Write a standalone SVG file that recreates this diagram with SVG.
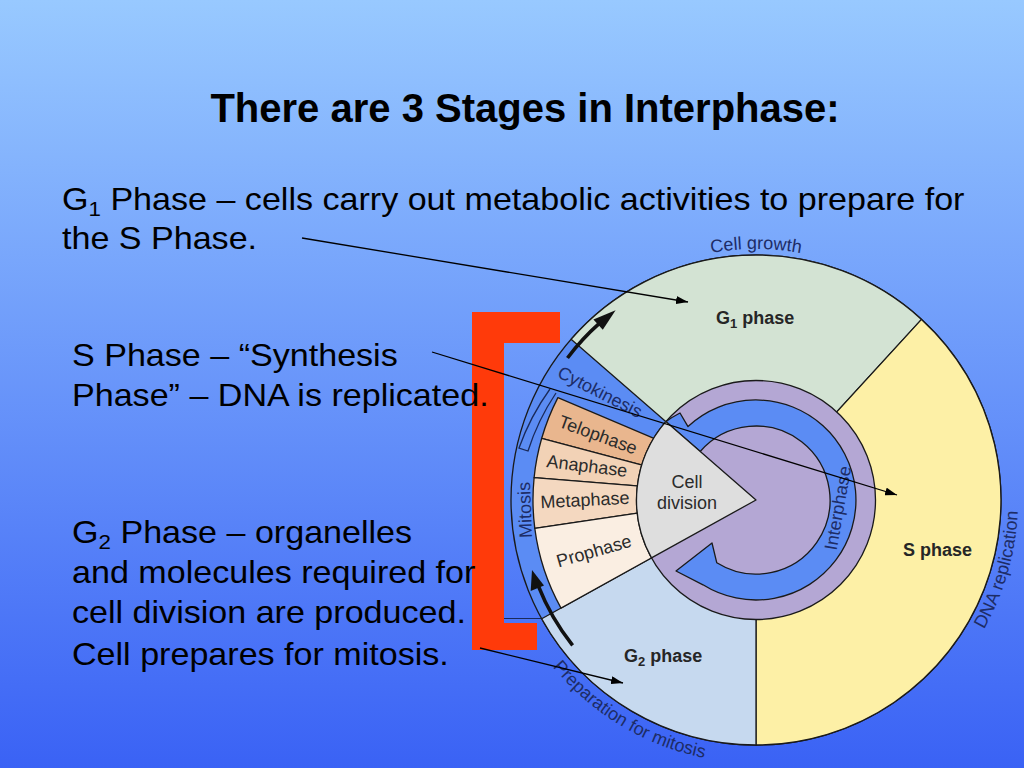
<svg xmlns="http://www.w3.org/2000/svg" width="1024" height="768" viewBox="0 0 1024 768">
<defs>
<linearGradient id="bg" x1="0" y1="0" x2="0" y2="1">
<stop offset="0" stop-color="#98c9ff"/>
<stop offset="1" stop-color="#3a62f5"/>
</linearGradient>
<marker id="ah" markerWidth="12" markerHeight="8" refX="12" refY="4" orient="auto" markerUnits="userSpaceOnUse">
<path d="M0,0 L12,4 L0,8 Z" fill="#000"/>
</marker>
<path id="pCG" d="M612,294.4 A251,251 0 0 1 900,294.4"/>
<path id="pDNA" d="M968,654 A262,262 0 0 0 1017.4,481.7"/>
<path id="pPrep" d="M528.2,631.5 A263,263 0 0 0 746.8,762.8"/>
</defs>
<style>
text{font-family:"Liberation Sans",Arial,Helvetica,sans-serif}
.body{font-size:32px;fill:#000}
.title{font-size:40px;font-weight:bold;text-anchor:middle;fill:#000}
.sec{stroke:#1a1a1a;stroke-width:1.3;stroke-linejoin:round}
.lbl{font-size:18px;fill:#2b2b2b;text-anchor:middle}
.ring{font-size:18px;fill:#1d2c66;text-anchor:middle}
.ph{font-size:18px;font-weight:bold;fill:#262626}
.conn{stroke:#000;stroke-width:1.3;fill:none}
.thick{stroke:#111;stroke-width:3.6;fill:none}
</style>
<rect width="1024" height="768" fill="url(#bg)"/>

<g id="title"><text class="title" x="525" y="122">There are 3 Stages in Interphase:</text></g>

<g id="bracket">
<path d="M472,312 H560 V343 H504 V623 H537 V650 H472 Z" fill="#ff3a0a"/>
<line x1="504" y1="618.5" x2="541" y2="618.5" stroke="#1a2a5a" stroke-width="1.2"/>
</g>

<g id="cycle">
<circle cx="756" cy="500" r="245" fill="#5b8cf4" class="sec"/>
<path id="g1-sector" class="sec" fill="#d3e3d3" d="M756,500 L571.1,339.3 A245,245 0 0 1 921.5,319.4 Z"/>
<path id="s-sector" class="sec" fill="#fdf0a6" d="M756,500 L921.5,319.4 A245,245 0 0 1 756,745 Z"/>
<path id="g2-sector" class="sec" fill="#c6d9ef" d="M756,500 L756,745 A245,245 0 0 1 541.7,618.8 Z"/>
<path id="telophase" class="sec" fill="#e9b68e" d="M557.9,397.6 A223,223 0 0 0 541.7,438.3 L649.7,467.1 L660.4,441.1 Z"/>
<path id="anaphase" class="sec" fill="#f2d2b6" d="M541.7,438.3 A223,223 0 0 0 534.1,477.7 L646,486.6 L649.7,467.1 Z"/>
<path id="metaphase" class="sec" fill="#f4d8c0" d="M534.1,477.7 A223,223 0 0 0 534.8,528.4 L645.9,511.8 L646,486.6 Z"/>
<path id="prophase" class="sec" fill="#faeee2" d="M534.8,528.4 A223,223 0 0 0 561,608.1 L658,554.3 L645.9,511.8 Z"/>
<path d="M550,389 A236,236 0 0 0 519,448 L528,451 A228,228 0 0 1 556,393" fill="none" stroke="#1a2a5a" stroke-width="1.3"/>
<circle id="interphase-disk" cx="756" cy="500" r="119.5" fill="#b4a7d4" class="sec"/>
<path id="interphase-arrow" class="sec" fill="#5b8cf4" d="M700.2,451.5 L665.8,421.6 A119.5,119.5 0 0 1 680,413 L688,426.6 A100,100 0 1 1 703,584.8 L676,571 L712,543 L716.8,562.8 A74,74 0 1 0 700.2,451.5 Z"/>
<path id="cell-division" class="sec" fill="#dedede" d="M756,500 L665.8,421.6 A119.5,119.5 0 0 0 651.5,557.9 Z"/>

<path class="thick" d="M567.5,358 A236,236 0 0 1 599.6,323.2"/>
<polygon points="593.4,319.4 602.8,329.8 615.6,310.3" fill="#111"/>
<path class="thick" d="M572.6,645.3 A234,234 0 0 1 538.3,585.8"/>
<polygon points="530.7,591 544,585.5 532,570" fill="#111"/>

<text class="lbl"><tspan x="687" y="488">Cell</tspan><tspan x="687" y="509">division</tspan></text>
<text class="lbl" transform="translate(598,435) rotate(20)" y="6">Telophase</text>
<text class="lbl" transform="translate(587,466) rotate(7)" y="6">Anaphase</text>
<text class="lbl" transform="translate(585,500) rotate(-3)" y="6">Metaphase</text>
<text class="lbl" transform="translate(594,551) rotate(-16)" y="6">Prophase</text>
<text class="ring" transform="translate(600,392) rotate(27)" y="6">Cytokinesis</text>
<text class="ring" transform="translate(525,510) rotate(-92)" y="6">Mitosis</text>
<text class="ring" transform="translate(838,508) rotate(-80)" y="6">Interphase</text>
<text class="ring"><textPath href="#pCG" startOffset="50%">Cell growth</textPath></text>
<text class="ring"><textPath href="#pDNA" startOffset="50%">DNA replication</textPath></text>
<text class="ring"><textPath href="#pPrep" startOffset="50%">Preparation for mitosis</textPath></text>
<text class="ph" x="716" y="324">G<tspan font-size="13" dy="4">1</tspan><tspan dy="-4"> phase</tspan></text>
<text class="ph" x="903" y="556">S phase</text>
<text class="ph" x="624" y="662">G<tspan font-size="13" dy="4">2</tspan><tspan dy="-4"> phase</tspan></text>
</g>

<g id="text-g1" transform="scale(1.065 1)">
<text class="body" x="58.2" y="210">G<tspan font-size="21" dy="6">1</tspan><tspan dy="-6"> Phase – cells carry out metabolic activities to prepare for</tspan></text>
<text class="body" x="58.2" y="249">the S Phase.</text>
</g>
<g id="text-s" transform="scale(1.065 1)">
<text class="body" x="67.6" y="366">S Phase – “Synthesis</text>
<text class="body" x="67.6" y="406">Phase” – DNA is replicated.</text>
</g>
<g id="text-g2" transform="scale(1.065 1)">
<text class="body" x="67.6" y="543">G<tspan font-size="21" dy="6">2</tspan><tspan dy="-6"> Phase – organelles</tspan></text>
<text class="body" x="67.6" y="583">and molecules required for</text>
<text class="body" x="67.6" y="623">cell division are produced.</text>
<text class="body" x="67.6" y="665">Cell prepares for mitosis.</text>
</g>

<g id="connectors">
<line class="conn" x1="302" y1="238" x2="688" y2="302" marker-end="url(#ah)"/>
<line class="conn" x1="432" y1="352" x2="897" y2="495" marker-end="url(#ah)"/>
<line class="conn" x1="480" y1="648" x2="623" y2="683" marker-end="url(#ah)"/>
</g>
</svg>
